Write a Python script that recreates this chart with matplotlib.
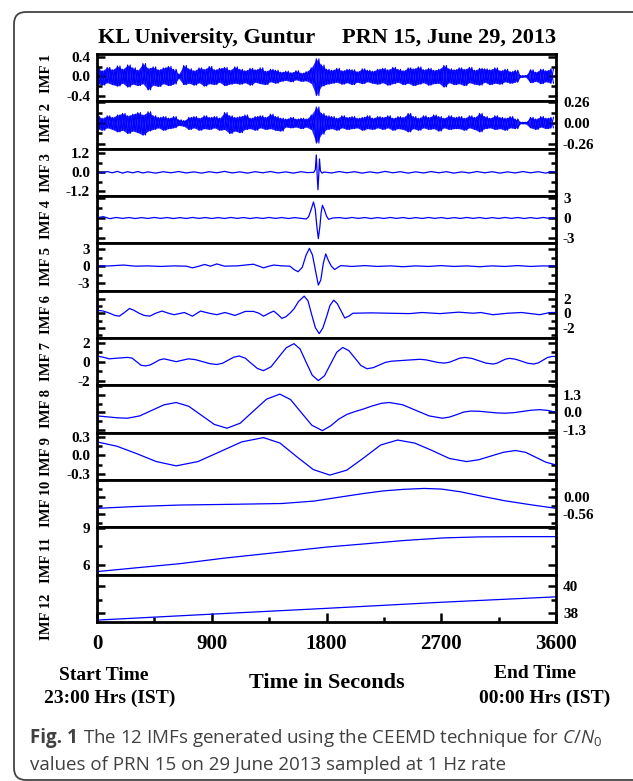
import numpy as np
import matplotlib
matplotlib.use("Agg")
import matplotlib.pyplot as plt
from matplotlib.patches import FancyBboxPatch
from matplotlib.transforms import IdentityTransform
from matplotlib.ticker import FixedLocator, FixedFormatter, AutoMinorLocator

plt.rcParams["font.family"] = "Liberation Serif"
plt.rcParams["font.weight"] = "bold"
plt.rcParams["axes.unicode_minus"] = False
plt.rcParams["mathtext.fontset"] = "custom"
plt.rcParams["mathtext.rm"] = "Open Sans:weight=normal"
plt.rcParams["mathtext.it"] = "Open Sans:style=italic:weight=normal"

# ---- IMF 1 / IMF 2: dense noise, read as upper/lower swings every 40 s
noise_t = np.arange(90) * 40
imf1_hi = [0.16, 0.12, 0.19, 0.14, 0.22, 0.15, 0.24, 0.18, 0.13, 0.27,
           0.17, 0.2, 0.14, 0.18, 0.21, 0.15, 0.05, 0.23, 0.16, 0.12,
           0.18, 0.15, 0.21, 0.14, 0.17, 0.19, 0.13, 0.2, 0.15, 0.12,
           0.17, 0.14, 0.18, 0.11, 0.15, 0.13, 0.09, 0.11, 0.08, 0.12,
           0.07, 0.1, 0.18, 0.37, 0.24, 0.15, 0.13, 0.17, 0.12, 0.15,
           0.14, 0.1, 0.16, 0.13, 0.11, 0.15, 0.17, 0.14, 0.19, 0.15,
           0.12, 0.18, 0.16, 0.2, 0.14, 0.17, 0.13, 0.15, 0.23, 0.16,
           0.14, 0.18, 0.15, 0.19, 0.13, 0.17, 0.16, 0.14, 0.18, 0.12,
           0.15, 0.1, 0.13, 0.02, 0.02, 0.14, 0.09, 0.15, 0.12, 0.16]
imf1_lo = [-0.15, -0.18, -0.13, -0.17, -0.2, -0.14, -0.22, -0.16, -0.19, -0.15,
           -0.28, -0.18, -0.21, -0.15, -0.19, -0.16, -0.04, -0.17, -0.14, -0.18,
           -0.13, -0.2, -0.15, -0.17, -0.12, -0.19, -0.16, -0.14, -0.16, -0.13,
           -0.18, -0.12, -0.15, -0.17, -0.11, -0.14, -0.1, -0.08, -0.11, -0.07,
           -0.1, -0.09, -0.14, -0.4, -0.2, -0.16, -0.14, -0.12, -0.16, -0.13,
           -0.17, -0.12, -0.15, -0.11, -0.14, -0.16, -0.13, -0.18, -0.15, -0.12,
           -0.17, -0.14, -0.19, -0.16, -0.13, -0.18, -0.15, -0.14, -0.22, -0.13,
           -0.17, -0.15, -0.19, -0.13, -0.16, -0.18, -0.12, -0.17, -0.14, -0.16,
           -0.11, -0.14, -0.12, -0.02, -0.01, -0.13, -0.1, -0.15, -0.11, -0.14]
imf2_hi = [0.08, 0.06, 0.09, 0.07, 0.1, 0.12, 0.09, 0.11, 0.13, 0.1,
           0.14, 0.09, 0.07, 0.08, 0.06, 0.08, 0.04, 0.03, 0.07, 0.08,
           0.06, 0.09, 0.07, 0.08, 0.06, 0.13, 0.09, 0.07, 0.08, 0.1,
           0.06, 0.08, 0.09, 0.07, 0.11, 0.08, 0.06, 0.05, 0.07, 0.05,
           0.06, 0.05, 0.1, 0.2, 0.12, 0.09, 0.08, 0.06, 0.09, 0.07,
           0.08, 0.06, 0.07, 0.09, 0.06, 0.08, 0.07, 0.09, 0.06, 0.08,
           0.07, 0.12, 0.08, 0.06, 0.09, 0.07, 0.1, 0.08, 0.06, 0.09,
           0.07, 0.08, 0.06, 0.09, 0.07, 0.12, 0.08, 0.06, 0.09, 0.07,
           0.06, 0.08, 0.05, 0.01, 0.01, 0.07, 0.05, 0.08, 0.06, 0.07]
imf2_lo = [-0.07, -0.09, -0.06, -0.08, -0.11, -0.09, -0.13, -0.1, -0.12, -0.15,
           -0.1, -0.08, -0.06, -0.09, -0.07, -0.06, -0.03, -0.04, -0.08, -0.06,
           -0.09, -0.07, -0.08, -0.06, -0.09, -0.08, -0.13, -0.1, -0.12, -0.08,
           -0.07, -0.09, -0.06, -0.08, -0.07, -0.09, -0.1, -0.05, -0.06, -0.05,
           -0.07, -0.05, -0.08, -0.25, -0.14, -0.08, -0.07, -0.09, -0.06, -0.08,
           -0.07, -0.06, -0.09, -0.07, -0.08, -0.06, -0.08, -0.06, -0.09, -0.07,
           -0.08, -0.11, -0.07, -0.09, -0.06, -0.08, -0.07, -0.1, -0.06, -0.08,
           -0.07, -0.07, -0.09, -0.06, -0.08, -0.11, -0.07, -0.06, -0.08, -0.07,
           -0.09, -0.06, -0.07, -0.01, -0.01, -0.06, -0.08, -0.05, -0.07, -0.06]

# ---- IMF 3 .. IMF 12 (time in s, value)
t3 = [0, 40, 80, 120, 160, 200, 240, 280, 320, 360, 400,
      460, 520, 580, 640, 700, 760, 820, 880, 940, 1000, 1060, 1120, 1180,
      1240, 1300, 1360, 1420, 1480, 1540, 1600, 1650,
      1700, 1712, 1720, 1727, 1733, 1739, 1745, 1752, 1765, 1780,
      1840, 1900, 1960, 2020, 2080, 2140, 2200, 2260, 2320, 2380, 2440, 2500,
      2560, 2620, 2680, 2740, 2800, 2860, 2920, 2980, 3040, 3100, 3160, 3220,
      3280, 3340, 3400, 3460, 3520, 3560, 3600]
y3 = [0.03, -0.04, 0.05, -0.03, 0.06, -0.05, 0.04, -0.03, 0.05, -0.04, 0.03,
      -0.05, 0.04, -0.03, 0.05, -0.04, 0.03, -0.05, 0.04, -0.03, 0.06, -0.04, 0.03, -0.05,
      0.04, -0.03, 0.05, -0.04, 0.03, -0.05, 0.04, -0.02,
      0.0, 0.15, 1.1, -0.2, -1.1, -0.2, 0.85, 0.1, -0.05, 0.02,
      -0.04, 0.05, -0.03, 0.04, -0.05, 0.03, -0.04, 0.06, -0.03, 0.04, -0.05, 0.03,
      -0.04, 0.05, -0.03, 0.04, -0.05, 0.03, -0.04, 0.05, -0.03, 0.04, -0.05, 0.03,
      -0.04, 0.05, -0.03, 0.04, -0.05, 0.04, 0.0]

t4 = [0, 50, 100, 150, 200, 250, 300, 350, 400, 450, 500, 550, 600, 650, 700,
      750, 800, 850, 900, 950, 1000, 1050, 1100, 1150, 1200, 1250, 1300, 1350,
      1400, 1450, 1500, 1550, 1600,
      1641, 1660, 1680, 1698, 1712, 1724, 1736, 1748, 1758, 1768, 1782, 1800, 1816, 1848,
      1900, 1950, 2000, 2050, 2100, 2150, 2200, 2250, 2300, 2350, 2400, 2450, 2500,
      2550, 2600, 2650, 2700, 2750, 2800, 2850, 2900, 2950, 3000, 3050, 3100, 3150,
      3200, 3250, 3300, 3350, 3400, 3450, 3500, 3550, 3600]
y4 = [0.05, 0.2, -0.1, 0.08, -0.06, 0.07, -0.08, 0.06, -0.07, 0.08, -0.06, 0.07,
      -0.08, 0.06, -0.07, 0.08, -0.06, 0.07, -0.08, 0.06, -0.07, 0.08, -0.06, 0.07,
      -0.08, 0.06, -0.07, 0.08, -0.06, 0.07, -0.08, 0.06, -0.05,
      -0.15, 0.2, 1.3, 2.4, 1.3, -1.2, -3.1, -1.3, 0.8, 1.9, 1.3, 0.3, -0.2, 0.0,
      0.06, -0.07, 0.08, -0.06, 0.07, -0.08, 0.06, -0.07, 0.08, -0.06, 0.07, -0.08,
      0.06, -0.07, 0.08, -0.06, 0.07, -0.08, 0.06, -0.07, 0.08, -0.06, 0.07, -0.08,
      0.06, -0.07, 0.08, -0.06, 0.07, -0.08, 0.06, -0.07, 0.08, -0.06, 0.05]

t5 = [0, 100, 207, 300, 400, 500, 600, 700, 749, 800, 844, 890, 940, 1000, 1100,
      1227, 1270, 1306, 1350, 1386, 1450, 1513, 1545, 1577, 1610, 1640, 1666, 1690,
      1712, 1736, 1755, 1775, 1794, 1815, 1838, 1864, 1890, 1912, 2000, 2100, 2200,
      2300, 2400, 2500, 2600, 2700, 2800, 2900, 3000, 3100, 3200, 3300, 3400, 3500, 3600]
y5 = [0.0, 0.05, 0.2, 0.0, 0.05, -0.05, 0.05, 0.0, -0.3, 0.0, 0.3, 0.0, 0.4, 0.0, 0.05,
      0.35, 0.0, -0.3, 0.0, 0.2, 0.05, 0.0, -0.6, -1.0, -0.2, 2.0, 3.2, 2.0,
      -0.6, -3.4, -2.5, 0.5, 2.2, 1.0, 0.0, -0.6, -0.2, 0.1, -0.05, 0.1, -0.05,
      0.05, -0.1, 0.05, -0.05, 0.1, -0.05, 0.05, -0.1, 0.05, -0.05, 0.1, -0.05, 0.05, 0.0]

t6 = [0, 50, 100, 140, 175, 215, 255, 290, 330, 370, 414, 460, 510, 560, 605, 685,
      749, 812, 880, 940, 1003, 1083, 1163, 1227, 1270, 1306, 1350, 1386, 1420, 1450,
      1480, 1513, 1545, 1580, 1625, 1655, 1684, 1713, 1743, 1772, 1800, 1828, 1857,
      1885, 1915, 1943, 1975, 2007, 2150, 2300, 2450, 2549, 2690, 2836, 2950, 3010,
      3106, 3220, 3330, 3473, 3553, 3600]
y6 = [0.4, 0.3, 0.0, -0.3, -0.4, 0.1, 0.65, 0.4, 0.0, -0.3, -0.4, 0.0, 0.3, 0.0, -0.2,
      0.1, -0.4, 0.3, 0.0, -0.2, 0.1, -0.3, 0.25, 0.25, 0.0, -0.4, 0.0, 0.3, -0.2, -0.7,
      -0.5, 0.0, 0.6, 1.6, 2.35, 1.7, -0.2, -2.0, -2.8, -2.0, -0.5, 1.1, 1.8,
      1.3, 0.3, -0.65, -0.4, 0.0, 0.05, 0.0, -0.05, 0.1, -0.05, 0.15, 0.0, 0.1,
      -0.2, 0.0, 0.1, -0.2, 0.1, 0.1]

t7 = [0, 48, 96, 167, 239, 275, 310, 346, 382, 418, 454, 490, 526, 574, 621, 669,
      717, 773, 829, 885, 940, 984, 1028, 1072, 1115, 1163, 1210, 1258, 1306, 1366,
      1425, 1485, 1545, 1593, 1640, 1688, 1736, 1784, 1832, 1880, 1927, 1975, 2023,
      2071, 2119, 2167, 2215, 2263, 2310, 2420, 2533, 2581, 2628, 2676, 2724, 2764,
      2804, 2843, 2883, 2939, 2995, 3050, 3106, 3138, 3170, 3202, 3234, 3282, 3330,
      3377, 3425, 3461, 3497, 3532, 3568, 3600]
y7 = [0.6, 0.47, 0.3, 0.38, 0.45, 0.38, 0.0, -0.38, -0.45, -0.34, -0.08, 0.19, 0.3,
      0.15, 0.0, 0.15, 0.3, 0.21, 0.0, -0.21, -0.3, -0.17, 0.15, 0.47, 0.6, 0.37,
      -0.18, -0.72, -0.95, -0.53, 0.48, 1.48, 1.9, 1.33, -0.05, -1.43, -2.0, -1.49,
      -0.25, 0.99, 1.5, 1.17, 0.38, -0.42, -0.75, -0.63, -0.35, -0.07, 0.05, 0.15,
      0.25, 0.19, 0.05, -0.09, -0.15, -0.06, 0.15, 0.36, 0.45, 0.35, 0.1, -0.15,
      -0.25, -0.16, 0.05, 0.26, 0.35, 0.26, 0.05, -0.16, -0.25, -0.13, 0.15, 0.43,
      0.55, 0.55]

t8 = [0, 80, 160, 239, 335, 430, 526, 621, 720, 820, 920, 1019, 1123, 1226, 1330,
      1434, 1518, 1601, 1685, 1768, 1832, 1896, 1960, 2023, 2090, 2160, 2230, 2294,
      2398, 2501, 2605, 2708, 2764, 2820, 2875, 2931, 3000, 3068, 3135, 3202, 3270,
      3338, 3405, 3473, 3540, 3600]
y8 = [-0.26, -0.33, -0.4, -0.43, -0.26, 0.15, 0.56, 0.73, 0.45, -0.22, -0.89, -1.17,
      -0.8, 0.09, 0.98, 1.35, 0.95, 0.0, -0.95, -1.35, -1.0, -0.5, -0.15, 0.06, 0.25,
      0.48, 0.67, 0.73, 0.56, 0.15, -0.26, -0.43, -0.35, -0.17, 0.02, 0.1, 0.08, 0.02,
      -0.04, -0.06, -0.02, 0.07, 0.16, 0.2, 0.14, 0.0]

t9 = [0, 155, 310, 465, 621, 792, 964, 1135, 1306, 1436, 1566, 1696, 1826, 1959,
      2092, 2225, 2358, 2493, 2628, 2764, 2899, 2995, 3090, 3186, 3282, 3362, 3441,
      3520, 3600]
y9 = [0.22, 0.15, 0.03, -0.1, -0.17, -0.1, 0.06, 0.22, 0.29, 0.2, -0.02, -0.23,
      -0.32, -0.24, -0.04, 0.17, 0.25, 0.2, 0.08, -0.05, -0.1, -0.07, -0.01, 0.05,
      0.08, 0.05, -0.03, -0.11, -0.155]

t10 = [0, 300, 653, 1000, 1450, 1700, 1900, 2087, 2250, 2405, 2565, 2700, 2850,
       3043, 3200, 3400, 3600]
y10 = [-0.37, -0.31, -0.26, -0.24, -0.21, -0.13, 0.0, 0.12, 0.21, 0.26, 0.29, 0.27,
       0.18, 0.01, -0.12, -0.25, -0.37]

t11 = [0, 300, 653, 1000, 1450, 1800, 2087, 2400, 2724, 3000, 3300, 3600]
y11 = [5.45, 5.75, 6.1, 6.55, 7.05, 7.45, 7.7, 7.98, 8.2, 8.28, 8.3, 8.3]

t12 = [0, 900, 1800, 2700, 3600]
y12 = [37.48, 37.92, 38.35, 38.8, 39.2]

# ticks / limits per panel
ylims = [(-0.52, 0.47), (-0.32, 0.27), (-1.5, 1.5), (-3.8, 3.3), (-4.4, 4.1),
         (-3.4, 3.1), (-2.5, 2.5), (-1.5, 2.0), (-0.40, 0.37), (-1.0, 0.57),
         (5.2, 9.06), (37.34, 40.84)]
yticks = [[-0.4, 0, 0.4], [-0.26, 0, 0.26], [-1.2, 0, 1.2], [-3, 0, 3], [-3, 0, 3],
          [-2, 0, 2], [-2, 0, 2], [-1.3, 0, 1.3], [-0.3, 0, 0.3], [-0.56, 0, 0.56],
          [6, 9], [38, 40]]
ytlabels = [["-0.4", "0.0", "0.4"], ["-0.26", "0.00", "0.26"], ["-1.2", "0.0", "1.2"],
            ["-3", "0", "3"], ["-3", "0", "3"], ["-2", "0", "2"], ["-2", "0", "2"],
            ["-1.3", "0.0", "1.3"], ["-0.3", "0.0", "0.3"], ["-0.56", "0.00", ""],
            ["6", "9"], ["38", "40"]]
label_y = [0.58, 0.55, 0.5, 0.5, 0.5, 0.5, 0.5, 0.5, 0.5, 0.5, 0.31, 0.1]
xticks = [0, 900, 1800, 2700, 3600]

W, H = 633, 781
fig = plt.figure(figsize=(W / 100, H / 100), dpi=100)
axs = fig.subplots(12, 1, sharex=True, gridspec_kw=dict(hspace=0))
fig.subplots_adjust(left=97 / W, right=556 / W, top=1 - 54 / H, bottom=1 - 622 / H)

# noise panels: zig-zag between the read swings, both phases, over a filled envelope
x_a = np.empty(180)
x_a[0::2] = noise_t
x_a[1::2] = noise_t + 20
noise = [(imf1_hi, imf1_lo), (imf2_hi, imf2_lo)]
for k, (hi, lo) in enumerate(noise):
    ax = axs[k]
    za = np.empty(180)
    za[0::2] = hi
    za[1::2] = lo
    zb = np.empty(180)
    zb[0::2] = lo
    zb[1::2] = hi
    ax.fill_between(noise_t, lo, hi, color="#0000ff", alpha=0.85, lw=0)
    ax.plot(x_a, za, color="#0000ff", lw=0.8)
    ax.plot(x_a, zb, color="#0000ff", lw=0.8)

series = [None, None, (t3, y3), (t4, y4), (t5, y5), (t6, y6),
          (t7, y7), (t8, y8), (t9, y9), (t10, y10), (t11, y11), (t12, y12)]

for i, ax in enumerate(axs):
    if series[i] is not None:
        tx, ty = series[i]
        ax.plot(tx, ty, color="#0000ff", lw=0.9)
    ax.set_xlim(0, 3600)
    ax.set_ylim(*ylims[i])
    ax.yaxis.set_major_locator(FixedLocator(yticks[i]))
    ax.yaxis.set_major_formatter(FixedFormatter(ytlabels[i]))
    ax.yaxis.set_minor_locator(AutoMinorLocator(2))
    for s in ax.spines.values():
        s.set_linewidth(2.0)
    left_side = (i % 2 == 0)
    ax.tick_params(axis="y", which="both", direction="in", left=True, right=True,
                   labelleft=left_side, labelright=not left_side, labelsize=11,
                   width=1.8, pad=5)
    ax.tick_params(axis="y", which="major", length=6)
    ax.tick_params(axis="y", which="minor", length=3.5)
    ax.tick_params(axis="x", which="both", bottom=False, top=False)
    ax.text(-0.109, label_y[i], f"IMF {i + 1}", transform=ax.transAxes, rotation=90,
            ha="center", va="center", fontsize=10.5, fontweight="bold")

axb = axs[-1]
axb.xaxis.set_major_locator(FixedLocator(xticks))
axb.xaxis.set_minor_locator(AutoMinorLocator(2))
axb.tick_params(axis="x", which="both", bottom=True, direction="in", width=1.8,
                labelsize=15, pad=9)
axb.tick_params(axis="x", which="major", length=6.5)
axb.tick_params(axis="x", which="minor", length=3.6)

def ftext(x, y, s, **kw):
    return fig.text(x / W, 1 - y / H, s, **kw)

ftext(98, 43, "KL University, Guntur", ha="left", va="baseline", fontsize=16)
ftext(556, 43, "PRN 15, June 29, 2013", ha="right", va="baseline", fontsize=16)
ftext(327, 688, "Time in Seconds", ha="center", va="baseline", fontsize=16)
ftext(104, 680, "Start Time", ha="center", va="baseline", fontsize=14)
ftext(110, 703, "23:00 Hrs (IST)", ha="center", va="baseline", fontsize=14)
ftext(535, 678, "End Time", ha="center", va="baseline", fontsize=14)
ftext(545, 703, "00:00 Hrs (IST)", ha="center", va="baseline", fontsize=14)

# caption
cap = dict(fontsize=13.5, family="Open Sans", color="#404040", va="baseline", ha="left")
t_fig = ftext(30, 743, "Fig. 1", fontweight="bold", **cap)
fig.canvas.draw()
r = fig.canvas.get_renderer()
bb = t_fig.get_window_extent(r)
fig.text((bb.x1 + 5) / W, 1 - 743 / H,
         r"The 12 IMFs generated using the CEEMD technique for $\mathit{C/N}_0$",
         fontweight="normal", **cap)
ftext(30, 770, "values of PRN 15 on 29 June 2013 sampled at 1 Hz rate",
      fontweight="normal", **cap)

frame = FancyBboxPatch((14, 1), 660, 768, boxstyle="round,pad=0,rounding_size=12",
                       transform=IdentityTransform(), fill=False, ec="#444444", lw=1.3)
fig.add_artist(frame)

fig.savefig("out.png", dpi=100)
